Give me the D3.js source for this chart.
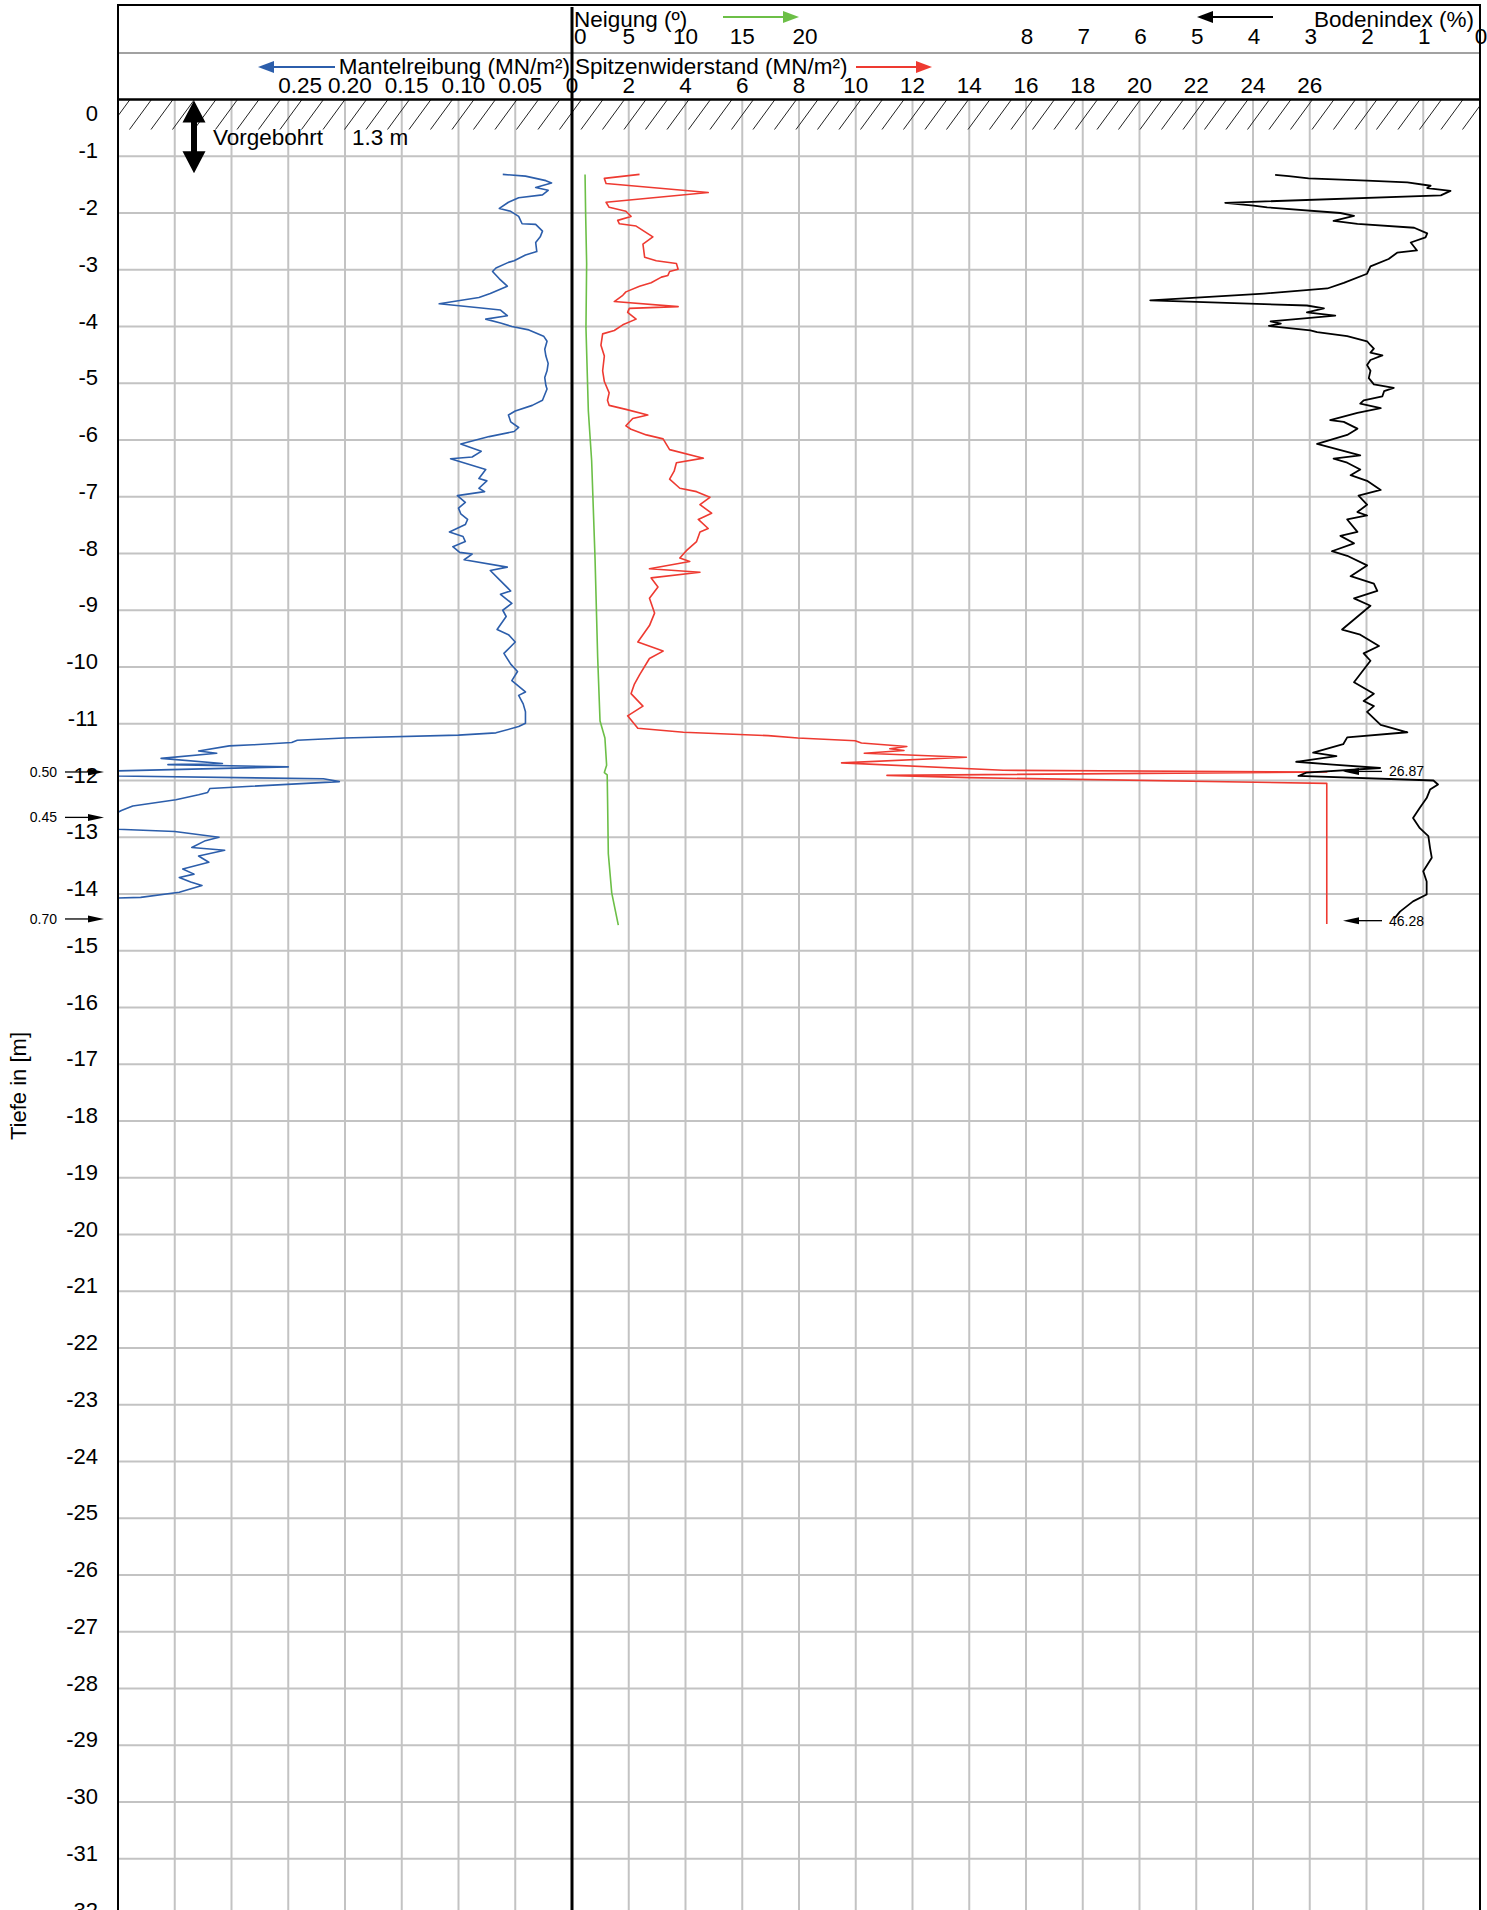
<!DOCTYPE html>
<html>
<head>
<meta charset="utf-8">
<script src="https://cdn.jsdelivr.net/npm/d3@7"></script>
<style>
  html, body { margin: 0; padding: 0; background: #fff; }
  svg { display: block; font-family: "Liberation Sans", Arial, sans-serif; }
</style>
</head>
<body>
<svg id="chart" width="1487" height="1910"></svg>
<script>
// ---------------- data ----------------
const depthTicks = d3.range(0, 33);                       // 0 .. 32 m
const spitzenTicks = [0, 2, 4, 6, 8, 10, 12, 14, 16, 18, 20, 22, 24, 26];
const mantelTicks = [0.25, 0.20, 0.15, 0.10, 0.05];
const neigungTicks = [0, 5, 10, 15, 20];
const bodenTicks = [8, 7, 6, 5, 4, 3, 2, 1, 0];

const predrilled = 1.3;

// Mantelreibung (MN/m²): [depth, value]
const mantelreibung = [
  [1.32,0.061],[1.35,0.041],[1.43,0.023],[1.47,0.018],[1.55,0.032],[1.60,0.021],[1.68,0.026],
  [1.73,0.047],[1.81,0.056],[1.92,0.064],[1.97,0.054],[2.06,0.047],[2.19,0.044],[2.20,0.032],
  [2.32,0.026],[2.42,0.028],[2.52,0.032],[2.68,0.031],[2.74,0.041],[2.84,0.051],[2.87,0.056],
  [2.97,0.067],[3.03,0.070],[3.16,0.064],[3.29,0.057],[3.42,0.072],[3.49,0.082],[3.60,0.117],
  [3.67,0.082],[3.71,0.063],[3.81,0.057],[3.87,0.076],[3.94,0.063],[4.00,0.053],[4.06,0.038],
  [4.17,0.025],[4.26,0.022],[4.40,0.024],[4.52,0.023],[4.65,0.021],[4.78,0.022],[4.90,0.024],
  [5.04,0.023],[5.10,0.022],[5.30,0.026],[5.39,0.035],[5.49,0.050],[5.56,0.056],[5.68,0.054],
  [5.78,0.047],[5.85,0.051],[5.94,0.073],[6.07,0.098],[6.20,0.080],[6.30,0.088],[6.33,0.107],
  [6.52,0.076],[6.68,0.082],[6.72,0.075],[6.85,0.082],[6.91,0.077],[6.98,0.101],[7.10,0.094],
  [7.20,0.100],[7.30,0.098],[7.40,0.092],[7.49,0.094],[7.62,0.108],[7.70,0.096],[7.79,0.094],
  [7.88,0.105],[7.98,0.099],[8.01,0.088],[8.11,0.095],[8.24,0.057],[8.30,0.072],[8.46,0.064],
  [8.66,0.054],[8.72,0.063],[8.88,0.053],[9.00,0.061],[9.11,0.058],[9.34,0.066],[9.43,0.056],
  [9.56,0.050],[9.76,0.060],[9.95,0.054],[10.08,0.048],[10.24,0.053],[10.44,0.041],[10.50,0.047],
  [10.65,0.043],[10.79,0.041],[10.99,0.041],[11.05,0.047],[11.16,0.067],[11.20,0.100],[11.25,0.201],
  [11.29,0.242],[11.33,0.247],[11.37,0.281],[11.39,0.302],[11.48,0.329],[11.52,0.313],[11.61,0.362],
  [11.70,0.308],[11.72,0.356],[11.76,0.250],[11.83,0.400],[11.92,0.400],[11.97,0.219],[12.02,0.205],
  [12.14,0.319],[12.21,0.321],[12.25,0.329],[12.34,0.349],[12.45,0.387],[12.53,0.397],[12.56,0.400],
  [12.86,0.400],[12.90,0.350],[13.00,0.311],[13.06,0.323],[13.18,0.335],[13.23,0.306],[13.33,0.329],
  [13.44,0.320],[13.56,0.343],[13.65,0.333],[13.71,0.346],[13.79,0.336],[13.85,0.326],[13.97,0.346],
  [14.06,0.380],[14.07,0.400],[14.47,0.400]
];

// Spitzenwiderstand (MN/m²): [depth, value]
const spitzenwiderstand = [
  [1.32,2.38],[1.39,1.14],[1.48,1.20],[1.64,4.80],[1.81,1.20],[1.90,1.31],[1.97,1.90],[2.06,2.08],
  [2.13,1.61],[2.19,1.67],[2.23,2.26],[2.42,2.85],[2.55,2.50],[2.78,2.56],[2.84,2.97],[2.89,3.68],
  [2.99,3.74],[3.03,3.44],[3.10,3.38],[3.13,3.15],[3.23,2.79],[3.29,2.38],[3.39,1.90],[3.45,1.79],
  [3.56,1.49],[3.65,3.74],[3.68,2.02],[3.75,1.96],[3.87,2.26],[3.97,1.79],[4.07,1.49],[4.13,1.08],
  [4.33,1.02],[4.52,1.14],[4.78,1.08],[4.97,1.14],[5.17,1.31],[5.30,1.25],[5.39,1.31],[5.46,1.90],
  [5.56,2.67],[5.62,2.14],[5.75,1.90],[5.81,2.08],[5.91,2.62],[5.98,3.21],[6.17,3.44],[6.32,4.63],
  [6.40,3.68],[6.55,3.60],[6.69,3.44],[6.85,3.80],[6.91,4.39],[7.01,4.86],[7.14,4.51],[7.29,4.92],
  [7.40,4.45],[7.56,4.80],[7.62,4.51],[7.79,4.39],[7.95,4.03],[8.08,3.80],[8.14,4.15],[8.27,2.73],
  [8.33,4.51],[8.43,2.79],[8.59,3.03],[8.79,2.73],[9.05,2.91],[9.27,2.73],[9.56,2.32],[9.72,3.21],
  [9.85,2.73],[10.14,2.38],[10.30,2.20],[10.47,2.08],[10.69,2.50],[10.86,1.96],[11.08,2.32],
  [11.15,3.93],[11.21,6.91],[11.25,7.96],[11.30,9.98],[11.34,10.20],[11.40,11.80],[11.44,11.20],
  [11.47,11.70],[11.52,10.30],[11.59,13.90],[11.69,9.50],[11.82,15.20],[11.85,26.60],[11.91,11.10],
  [11.95,14.00],[12.05,26.60],[14.53,26.60]
];

// Neigung (°): [depth, value]
const neigung = [
  [1.32,1.15],[2.00,1.20],[2.89,1.29],[4.02,1.23],[5.49,1.44],[6.36,1.73],[8.09,2.03],[9.82,2.26],
  [10.95,2.47],[11.25,2.90],[11.73,3.05],[11.86,2.85],[11.90,3.10],[12.42,3.14],[13.29,3.20],
  [13.98,3.50],[14.55,4.08]
];

// Bodenindex (%): [depth, value]
const bodenindex = [
  [1.33,3.61],[1.35,3.37],[1.39,3.02],[1.43,1.99],[1.46,1.28],[1.52,0.87],[1.56,0.93],[1.61,0.52],
  [1.69,0.69],[1.82,4.49],[1.87,3.99],[1.90,3.75],[2.00,2.46],[2.05,2.22],[2.14,2.58],[2.19,2.16],
  [2.26,1.16],[2.36,0.93],[2.43,0.96],[2.52,1.22],[2.66,1.11],[2.70,1.46],[2.81,1.61],[2.94,1.93],
  [3.07,1.99],[3.23,2.40],[3.33,2.69],[3.42,3.81],[3.54,5.81],[3.63,3.05],[3.68,2.75],[3.75,3.05],
  [3.81,2.55],[3.91,3.69],[3.95,3.51],[3.99,3.72],[4.07,2.99],[4.10,2.87],[4.17,2.34],[4.26,1.99],
  [4.33,1.93],[4.39,1.87],[4.46,1.93],[4.51,1.72],[4.59,1.93],[4.68,1.99],[4.78,1.93],[4.91,1.96],
  [5.02,1.87],[5.08,1.52],[5.14,1.69],[5.23,1.72],[5.30,2.05],[5.36,2.11],[5.44,1.75],[5.52,2.16],
  [5.65,2.64],[5.68,2.40],[5.80,2.16],[5.91,2.34],[6.07,2.87],[6.27,2.11],[6.33,2.58],[6.40,2.34],
  [6.52,2.11],[6.62,2.28],[6.72,1.99],[6.88,1.75],[6.98,2.14],[7.14,1.99],[7.27,2.16],[7.33,1.99],
  [7.40,2.34],[7.62,2.16],[7.69,2.46],[7.82,2.22],[7.96,2.61],[8.04,2.34],[8.21,1.99],[8.40,2.28],
  [8.53,1.87],[8.66,1.81],[8.79,2.22],[8.92,1.93],[9.34,2.43],[9.43,2.11],[9.63,1.78],[9.76,2.05],
  [9.89,1.93],[10.27,2.22],[10.47,1.87],[10.60,2.05],[10.69,1.87],[10.79,1.99],[11.02,1.75],
  [11.15,1.28],[11.24,2.34],[11.36,2.41],[11.51,2.94],[11.57,2.53],[11.67,3.24],[11.72,2.59],
  [11.78,1.76],[11.86,3.06],[11.92,3.20],[12.00,0.82],[12.07,0.74],[12.16,0.88],[12.31,0.94],
  [12.48,1.06],[12.66,1.18],[12.84,1.06],[12.98,0.91],[13.19,0.88],[13.36,0.85],[13.60,1.00],
  [13.78,0.94],[14.01,0.94],[14.13,1.18],[14.31,1.41],[14.42,1.50]
];

// out-of-range annotations
const mantelNotes = [[11.85, "0.50"], [12.65, "0.45"], [14.44, "0.70"]];
const spitzenNotes = [[11.84, "26.87"], [14.47, "46.28"]];

// ---------------- layout ----------------
const W = 1487, H = 1910;
const L = 118, R = 1480, ZERO = 572, TOP = 5, ROW1 = 53, PT = 99.5;
const unit = 56.75;

const y = d3.scaleLinear().domain([0, 32]).range([PT, PT + 32 * unit]);
const xQ = d3.scaleLinear().domain([0, 32]).range([ZERO, R]);
const xF = d3.scaleLinear().domain([0, 0.40]).range([ZERO, L]);
const xN = d3.scaleLinear().domain([0, 80]).range([ZERO, R]);
const xB = d3.scaleLinear().domain([0, 24]).range([R, L]);

const svg = d3.select("#chart");
svg.append("rect").attr("width", W).attr("height", H).attr("fill", "#fff");

const FONT = "Liberation Sans, Arial, sans-serif";
const gridColor = "#c3c3c3";
const HF = 22.5;   // header font size
const AF = 22;     // axis font size

// grid
svg.append("g").selectAll("line").data(d3.range(1, 24)).join("line")
  .attr("x1", k => xB(24 - k)).attr("x2", k => xB(24 - k))
  .attr("y1", PT).attr("y2", H)
  .attr("stroke", gridColor).attr("stroke-width", 2);
svg.append("g").selectAll("line").data(depthTicks.filter(d => d > 0)).join("line")
  .attr("x1", L).attr("x2", R)
  .attr("y1", d => y(d)).attr("y2", d => y(d))
  .attr("stroke", gridColor).attr("stroke-width", 2);

// hatching of pre-drilled top
const hatch = svg.append("g").attr("stroke", "#222").attr("stroke-width", 1);
const hTop = PT, hBot = PT + 30;
for (let xb = L - 10; xb < R; xb += 21.5) {
  let x1 = xb, y1 = hBot, x2 = xb + 22, y2 = hTop;
  const slope = (y2 - y1) / (x2 - x1);
  if (x1 < L) { y1 = y1 + slope * (L - x1); x1 = L; }
  if (x2 > R) { y2 = y1 + slope * (R - x1); x2 = R; }
  if (x2 <= x1) continue;
  hatch.append("line").attr("x1", x1).attr("y1", y1).attr("x2", x2).attr("y2", y2);
}

// curves
function curve(data, xs, color, w) {
  svg.append("path").datum(data)
    .attr("fill", "none").attr("stroke", color).attr("stroke-width", w)
    .attr("stroke-linejoin", "round")
    .attr("d", d3.line().x(d => xs(d[1])).y(d => y(d[0])));
}
const BLUE = "#2c5eab", RED = "#ee3a31", GREEN = "#6cbf47", BLACK = "#000";
curve(neigung, xN, GREEN, 1.6);
curve(spitzenwiderstand, xQ, RED, 1.6);
curve(mantelreibung, xF, BLUE, 1.6);
curve(bodenindex, xB, BLACK, 1.8);

// frame
const frame = svg.append("g").attr("stroke", "#000");
frame.append("line").attr("x1", L).attr("x2", R).attr("y1", TOP).attr("y2", TOP).attr("stroke-width", 2);
frame.append("line").attr("x1", L).attr("x2", R).attr("y1", ROW1).attr("y2", ROW1).attr("stroke-width", 1.2).attr("stroke", "#444");
frame.append("line").attr("x1", L).attr("x2", R).attr("y1", PT).attr("y2", PT).attr("stroke-width", 2.5);
frame.append("line").attr("x1", L).attr("x2", L).attr("y1", TOP - 1).attr("y2", H).attr("stroke-width", 2);
frame.append("line").attr("x1", R).attr("x2", R).attr("y1", TOP - 1).attr("y2", H).attr("stroke-width", 2);
frame.append("line").attr("x1", ZERO).attr("x2", ZERO).attr("y1", TOP + 2).attr("y2", H).attr("stroke-width", 3);

// arrows
function arrow(x1, x2, yy, color, headLen, headHalf, w) {
  // x2 = tip
  const dir = Math.sign(x2 - x1);
  svg.append("line").attr("x1", x1).attr("x2", x2 - dir * headLen * 0.8).attr("y1", yy).attr("y2", yy)
    .attr("stroke", color).attr("stroke-width", w);
  svg.append("path")
    .attr("d", `M${x2},${yy} L${x2 - dir * headLen},${yy - headHalf} L${x2 - dir * headLen},${yy + headHalf} Z`)
    .attr("fill", color);
}
arrow(723, 799, 17, GREEN, 16, 6, 2);
arrow(856, 932, 67, RED, 16, 6, 2);
arrow(335, 258, 67, BLUE, 16, 6, 2);
arrow(1273, 1197, 17, BLACK, 16, 6, 2);

// header texts
function text(x, yy, s, size, anchor, fill) {
  return svg.append("text").attr("x", x).attr("y", yy).attr("font-size", size)
    .attr("text-anchor", anchor || "start").attr("fill", fill || "#000")
    .attr("font-family", FONT).text(s);
}
text(574, 27, "Neigung (º)", HF, "start");
text(1474, 27, "Bodenindex (%)", HF, "end");
text(570, 74, "Mantelreibung (MN/m²)", HF, "end");
text(575, 74, "Spitzenwiderstand (MN/m²)", HF, "start");

neigungTicks.forEach(v => {
  if (v === 0) text(xN(v) + 2, 44, String(v), HF, "start");
  else text(xN(v) + (v === 20 ? 6 : 0), 44, String(v), HF, "middle");
});
bodenTicks.forEach(v => text(xB(v) + 1, 44, String(v), HF, "middle"));
spitzenTicks.forEach(v => text(xQ(v), 93, String(v), HF, "middle"));
mantelTicks.forEach(v => text(xF(v) + (v > 0.22 ? 12 : 5), 93, v.toFixed(2), HF, "middle"));

// depth axis labels
depthTicks.forEach(d => {
  const yy = d === 0 ? y(0) + 21 : y(d) + 2;
  text(98, yy, d === 0 ? "0" : "-" + d, AF, "end");
});
svg.append("text").attr("transform", `translate(26,${1086}) rotate(-90)`)
  .attr("text-anchor", "middle").attr("font-size", AF).attr("font-family", FONT).text("Tiefe in [m]");

// pre-drilled double arrow
{
  const ax = 194, y0 = y(0) + 1, y1 = y(predrilled), hl = 22, hw = 11.5, sw = 3;
  svg.append("path").attr("fill", "#000").attr("d",
    `M${ax},${y0} L${ax + hw},${y0 + hl} L${ax + sw},${y0 + hl} L${ax + sw},${y1 - hl} L${ax + hw},${y1 - hl}
     L${ax},${y1} L${ax - hw},${y1 - hl} L${ax - sw},${y1 - hl} L${ax - sw},${y0 + hl} L${ax - hw},${y0 + hl} Z`);
  text(213, 145, "Vorgebohrt", HF, "start");
  text(352, 145, predrilled + " m", HF, "start");
}

// out-of-range notes
mantelNotes.forEach(([d, s]) => {
  const yy = y(d);
  text(57, yy + 5, s, 14, "end");
  arrow(65, 104, yy, BLACK, 16, 3.5, 1.3);
});
spitzenNotes.forEach(([d, s]) => {
  const yy = y(d);
  arrow(1382, 1343, yy, BLACK, 16, 3.5, 1.3);
  text(1389, yy + 5, s, 14, "start");
});
</script>
</body>
</html>
